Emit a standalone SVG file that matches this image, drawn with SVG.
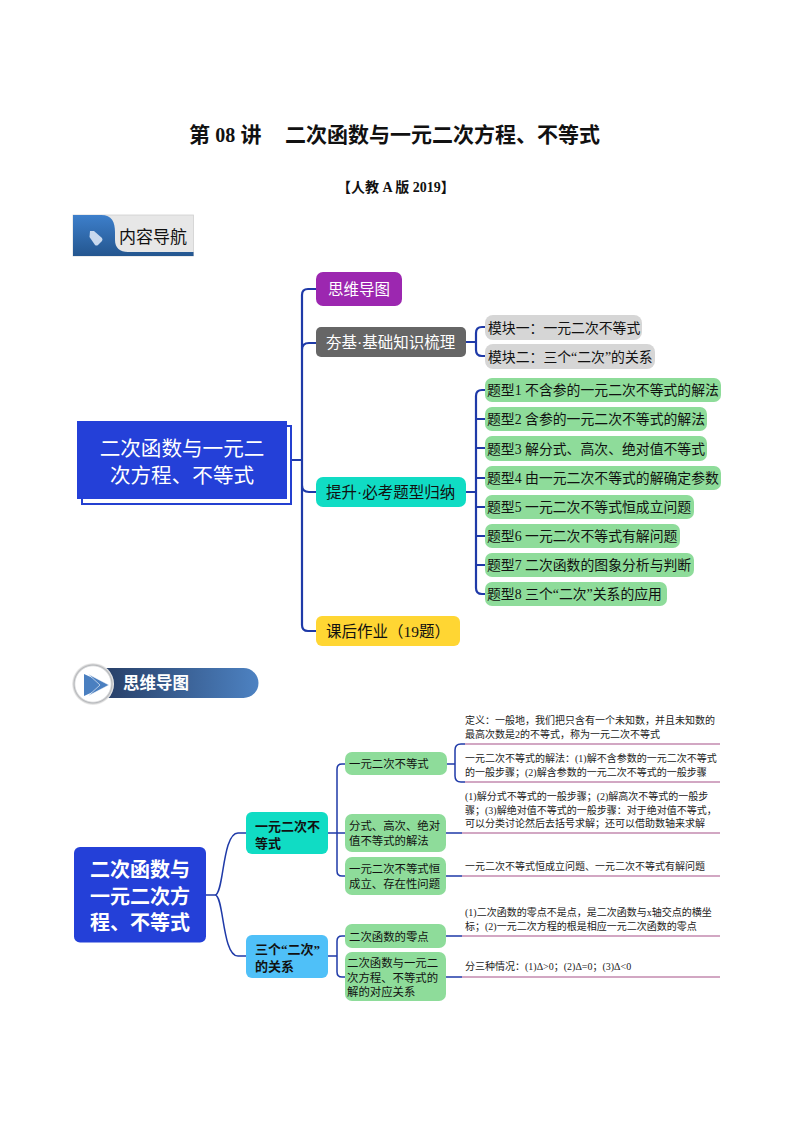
<svg xmlns="http://www.w3.org/2000/svg" width="794" height="1123" viewBox="0 0 794 1123">
<style>
text{font-family:"Liberation Serif","Noto Sans CJK SC",sans-serif;fill:#111}
.c{fill:none;stroke:#1f3aa8;stroke-width:2.2}
.c2{fill:none;stroke:#1f3aa8;stroke-width:1.5}
.p{fill:none;stroke:#c48bb0;stroke-width:1.3}
.g{fill:#8edc9a}
.m{fill:#d6d6d6}
.t{font-size:13.850px}
.s{font-size:11.4px}
.d{font-size:10px;fill:#222}
.w{fill:#fff}
.b{font-weight:700}
</style>
<defs>
<linearGradient id="tagBlue" x1="0" y1="0" x2="0" y2="1"><stop offset="0" stop-color="#3d7fcb"/><stop offset="1" stop-color="#24568f"/></linearGradient>
<linearGradient id="barBlue" x1="0" y1="0" x2="1" y2="0"><stop offset="0" stop-color="#24395f"/><stop offset="1" stop-color="#4d82c2"/></linearGradient>
<radialGradient id="ring" cx="0.5" cy="0.5" r="0.5"><stop offset="0.82" stop-color="#fff"/><stop offset="0.9" stop-color="#b5b7ba"/><stop offset="0.96" stop-color="#e0e0e0"/><stop offset="1" stop-color="#f2f2f2"/></radialGradient>
</defs>

<g id="title">
<text x="189" y="142" font-size="21" font-weight="700">第 <tspan font-size="20">08</tspan> 讲</text>
<text x="285" y="142" font-size="21" font-weight="700">二次函数与一元二次方程、不等式</text>
<text x="337" y="192" font-size="14" font-weight="700">【人教 A 版 2019】</text>
</g>

<g id="nav-tag">
<rect x="73" y="215" width="120.500" height="41" fill="#e7e7e7" stroke="#d0d0d0" stroke-width="0.800"/>
<path d="M73 215H101C112 215 115 222 115 232V240C115 248 120 252 128 252H193.500V256H73Z" fill="url(#tagBlue)"/>
<path d="M90 231H94L102 238Q103 239.500 102 241L98 245Q96.500 246 95 245L89.500 237Z" fill="#c9d9ee"/>
<text x="119" y="243" font-size="17">内容导航</text>
</g>

<g id="connectors">
<path class="c" d="M291 460H302M316 289H308Q302 289 302 295V625Q302 631 308 631H316M302 350Q302 343 309 343H316M302 485Q302 492 309 492H316"/>
<path class="c" d="M466 342H476M485 327H482Q476 327 476 333V350Q476 356 482 356H485"/>
<path class="c" d="M466 492H476M485 390H482Q476 390 476 396V588Q476 594 482 594H485M476 419H485M476 448H485M476 478H485M476 507H485M476 536H485M476 565H485"/>
<path class="c2" d="M206 895H215C224 895 222 833 238 833H246M215 895C224 895 222 956 238 956H246"/>
<path class="c2" d="M328 833H337M345 764H342Q337 764 337 769V871Q337 876 342 876H345M337 833H345"/>
<path class="c2" d="M328 956H337M345 936H342Q337 936 337 941V972Q337 977 342 977H345"/>
<path class="c2" d="M447 764H455M465 744H461Q455 744 455 750V776Q455 782 461 782H465"/>
<path class="c2" d="M446 833H462M446 876H462M446 936H462M446 977H462"/>
</g>

<g id="leaf-lines">
<path class="p" d="M465 744H720M465 782H720M462 833H720M462 876H720M462 936H720M462 977H720"/>
</g>

<g id="root-a">
<rect x="82" y="426" width="209" height="78" fill="#fff" stroke="#2440d0" stroke-width="2"/>
<rect x="77" y="421" width="210" height="78" fill="#2440d8"/>
<text class="w" x="182" y="456" font-size="20.600" text-anchor="middle">二次函数与一元二</text>
<text class="w" x="182" y="483" font-size="20.600" text-anchor="middle">次方程、不等式</text>
</g>
<g id="node-mindmap"><rect x="316" y="272" width="86" height="34" rx="7" fill="#9c27b0"/><text class="w" x="328" y="295" font-size="15.500">思维导图</text></g>
<g id="node-basic"><rect x="316" y="327" width="150" height="30" rx="5" fill="#666"/><text class="w" x="326" y="348" font-size="15.500">夯基·基础知识梳理</text></g>
<g id="node-up"><rect x="316" y="477" width="150" height="30" rx="7" fill="#10dcc4"/><text x="326" y="498" font-size="15.500">提升·必考题型归纳</text></g>
<g id="node-hw"><rect x="316" y="616" width="144" height="30" rx="6" fill="#ffd633"/><text x="326" y="637" font-size="15.500">课后作业（19题）</text></g>

<g id="mod-1"><rect class="m" x="485" y="315" width="157" height="25" rx="8"/><text class="t" x="488" y="333">模块一：一元二次不等式</text></g>
<g id="mod-2"><rect class="m" x="485" y="344" width="170" height="25" rx="8"/><text class="t" x="488" y="362">模块二：三个“二次”的关系</text></g>

<g id="type-1"><rect class="g" x="485" y="378" width="236" height="24" rx="7"/><text class="t" x="487" y="395">题型1 不含参的一元二次不等式的解法</text></g>
<g id="type-2"><rect class="g" x="485" y="407" width="222" height="24" rx="7"/><text class="t" x="487" y="424">题型2 含参的一元二次不等式的解法</text></g>
<g id="type-3"><rect class="g" x="485" y="436" width="222" height="25" rx="7"/><text class="t" x="487" y="454">题型3 解分式、高次、绝对值不等式</text></g>
<g id="type-4"><rect class="g" x="485" y="466" width="236" height="24" rx="7"/><text class="t" x="487" y="483">题型4 由一元二次不等式的解确定参数</text></g>
<g id="type-5"><rect class="g" x="485" y="495" width="209" height="24" rx="7"/><text class="t" x="487" y="512">题型5 一元二次不等式恒成立问题</text></g>
<g id="type-6"><rect class="g" x="485" y="524" width="195" height="24" rx="7"/><text class="t" x="487" y="541">题型6 一元二次不等式有解问题</text></g>
<g id="type-7"><rect class="g" x="485" y="553" width="209" height="24" rx="7"/><text class="t" x="487" y="570">题型7 二次函数的图象分析与判断</text></g>
<g id="type-8"><rect class="g" x="485" y="582" width="182" height="24" rx="7"/><text class="t" x="487" y="599">题型8 三个“二次”关系的应用</text></g>

<g id="section-badge">
<rect x="90" y="668" width="168.500" height="30" rx="15" fill="url(#barBlue)"/>
<circle cx="93" cy="684" r="21" fill="url(#ring)"/>
<path d="M84 674L108 685L84 696Z" fill="#4a7fc0"/>
<path d="M88 674L109 685L88 696L100 685Z" fill="#4a7fc0" stroke="#fff" stroke-width="0.600"/>
<text class="w b" x="123" y="689" font-size="16.500">思维导图</text>
</g>

<g id="root-b">
<rect x="74" y="847" width="132" height="95.500" rx="6" fill="#2440d8"/>
<text class="w b" x="90" y="877" font-size="20">二次函数与</text>
<text class="w b" x="90" y="903.500" font-size="20">一元二次方</text>
<text class="w b" x="90" y="930" font-size="20">程、不等式</text>
</g>
<g id="branch-1"><rect x="246" y="812" width="82" height="42" rx="6" fill="#10dcc4"/><text class="b" x="255" y="831" font-size="13">一元二次不</text><text class="b" x="255" y="848" font-size="13">等式</text></g>
<g id="branch-2"><rect x="246" y="935" width="82" height="43" rx="6" fill="#4fc0f8"/><text class="b" x="255" y="954" font-size="13">三个“二次”</text><text class="b" x="255" y="971" font-size="13">的关系</text></g>
<g id="sub-1"><rect class="g" x="345" y="752" width="102" height="23" rx="7"/><text class="s" x="349" y="768">一元二次不等式</text></g>
<g id="sub-2"><rect class="g" x="345" y="814" width="101" height="38" rx="7"/><text class="s" x="349" y="830">分式、高次、绝对</text><text class="s" x="349" y="845">值不等式的解法</text></g>
<g id="sub-3"><rect class="g" x="345" y="857" width="101" height="38" rx="7"/><text class="s" x="349" y="873">一元二次不等式恒</text><text class="s" x="349" y="888">成立、存在性问题</text></g>
<g id="sub-4"><rect class="g" x="345" y="924" width="101" height="24" rx="7"/><text class="s" x="349" y="941">二次函数的零点</text></g>
<g id="sub-5"><rect class="g" x="345" y="952" width="101" height="49" rx="7"/><text class="s" x="347" y="967">二次函数与一元二</text><text class="s" x="347" y="982">次方程、不等式的</text><text class="s" x="347" y="996">解的对应关系</text></g>

<g id="leaf-text">
<text class="d" x="465" y="724">定义：一般地，我们把只含有一个未知数，并且未知数的</text>
<text class="d" x="465" y="738">最高次数是2的不等式，称为一元二次不等式</text>
<text class="d" x="465" y="762">一元二次不等式的解法：(1)解不含参数的一元二次不等式</text>
<text class="d" x="465" y="776">的一般步骤；(2)解含参数的一元二次不等式的一般步骤</text>
<text class="d" x="465" y="800">(1)解分式不等式的一般步骤；(2)解高次不等式的一般步</text>
<text class="d" x="465" y="813.500">骤；(3)解绝对值不等式的一般步骤：对于绝对值不等式，</text>
<text class="d" x="465" y="827">可以分类讨论然后去括号求解；还可以借助数轴来求解</text>
<text class="d" x="465" y="870">一元二次不等式恒成立问题、一元二次不等式有解问题</text>
<text class="d" x="465" y="916">(1)二次函数的零点不是点，是二次函数与x轴交点的横坐</text>
<text class="d" x="465" y="930">标；(2)一元二次方程的根是相应一元二次函数的零点</text>
<text class="d" x="465" y="970">分三种情况：(1)Δ&gt;0；(2)Δ=0；(3)Δ&lt;0</text>
</g>
</svg>
